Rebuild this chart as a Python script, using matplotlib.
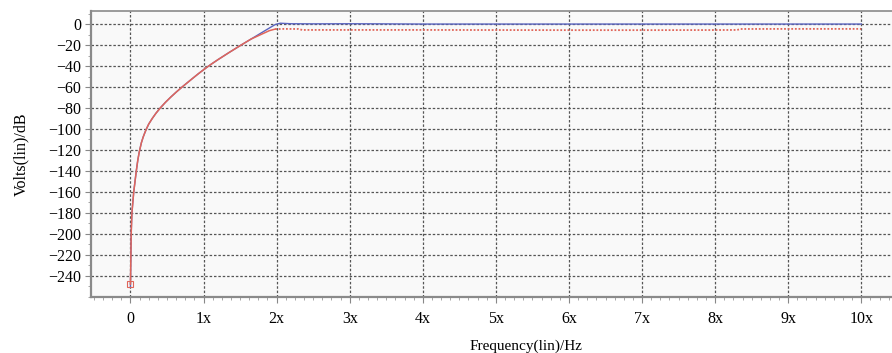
import matplotlib.pyplot as plt
from matplotlib.ticker import MultipleLocator

# Frequency response (x in multiples of the base freq)
freq = [0, 0.005, 0.01, 0.02, 0.045, 0.08, 0.1, 0.12, 0.15, 0.175, 0.2,
        0.225, 0.25, 0.3, 0.35, 0.41, 0.48, 0.55, 0.63, 0.71, 0.78, 0.85,
        0.93, 1.03, 1.1, 1.2, 1.35, 1.5, 1.65, 1.8, 1.9, 1.98, 2.05, 2.2,
        2.5, 3.0, 3.4, 4, 5, 6, 7, 8, 9, 10]
blue_db = [-250, -225, -200, -180, -160, -140, -130, -122, -113, -107.5,
           -103, -99, -95.3, -89.8, -84.9, -79.8, -74.5, -69.7, -64.6, -59.8,
           -55.8, -51.8, -47.3, -42, -38.5, -33.8, -27.1, -20.6, -14.3, -8,
           -3.8, -0.5, 0.8, 0.3, 0.2, 0.3, 0.2, 0, 0, 0, 0, 0, 0, 0]

red_rise_freq = [0, 0.005, 0.01, 0.02, 0.045, 0.08, 0.1, 0.12, 0.15, 0.175,
                 0.2, 0.225, 0.25, 0.3, 0.35, 0.41, 0.48, 0.55, 0.63, 0.71,
                 0.78, 0.85, 0.93, 1.03, 1.1, 1.2, 1.35, 1.5, 1.65, 1.8, 1.9,
                 1.98]
red_rise_db = [-248, -225, -200, -180, -160, -140, -130, -122, -113, -107.5,
               -103, -99, -95.3, -89.8, -84.9, -79.8, -74.5, -69.7, -64.6,
               -59.8, -55.8, -51.8, -47.3, -42, -38.5, -33.8, -27.1, -20.6,
               -14.3, -9.5, -6.3, -4.8]
red_flat_freq = [1.98, 2.1, 2.3, 2.35, 3, 4, 5, 6, 7, 8, 8.3, 8.35, 9, 10]
red_flat_db = [-4.8, -4.6, -4.7, -5.6, -5.6, -5.6, -5.7, -5.8, -5.8, -5.7,
               -5.6, -4.7, -4.6, -4.6]

xticks = list(range(11))
xtick_labels = ["0"] + [f"{i}x" for i in range(1, 11)]
yticks = list(range(0, -241, -20))

BLUE = "#5a64c0"
RED = "#e0665a"

plt.rcParams["font.family"] = ["Liberation Serif", "DejaVu Serif"]

fig = plt.figure(figsize=(8.92, 3.53), dpi=100)
ax = fig.add_axes([0.102, 0.159, 0.898, 0.81])
ax.set_facecolor("#f9f9f9")

ax.plot(freq, blue_db, color=BLUE, lw=1.0, zorder=3)
ax.plot(red_rise_freq, red_rise_db, color=RED, lw=1.1, zorder=4)
ax.plot(red_flat_freq, red_flat_db, color=RED, lw=1.3,
        linestyle=(0, (1, 1)), zorder=4)
ax.plot([0], [-248], marker="s", ms=4, mfc="none", mec=RED, mew=0.8, zorder=4)

ax.set_xlim(-0.54, 10.42)
ax.set_ylim(-260, 12.5)
ax.set_xticks(xticks)
ax.set_xticklabels(xtick_labels)
ax.set_yticks(yticks)
ax.set_yticklabels([f"\u2212{-v}" if v < 0 else "0" for v in yticks])
ax.xaxis.set_minor_locator(MultipleLocator(0.125))
ax.yaxis.set_minor_locator(MultipleLocator(10))

ax.grid(True, which="major", color="#555555", lw=0.9,
        linestyle=(0, (2, 1.5)), zorder=1)
ax.tick_params(which="major", direction="out", length=4, color="#888888",
               labelsize=11.5, pad=3)
ax.tick_params(axis="x", which="major", pad=6)
ax.tick_params(which="minor", direction="out", length=2.5, color="#999999")

for side, sp in ax.spines.items():
    sp.set_color("#8a8a8a")
    sp.set_linewidth(1.6 if side in ("left", "bottom") else 1.2)
ax.spines["right"].set_visible(False)

ax.set_ylabel("Volts(lin)/dB", fontsize=11.5, labelpad=14)
# x label sits right of the axes centre in the reference
fig.text(526 / 892, 1 - 346 / 353, "Frequency(lin)/Hz", fontsize=11,
         ha="center", va="center")

fig.savefig("out.png", dpi=100)
